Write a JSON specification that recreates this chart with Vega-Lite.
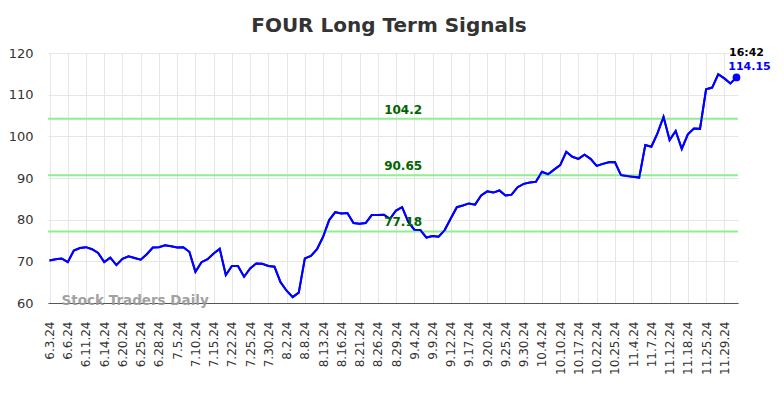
{
  "$schema": "https://vega.github.io/schema/vega-lite/v6.json",
  "width": 690,
  "height": 250,
  "autosize": {"type": "none"},
  "padding": {"left": 48, "top": 53, "right": 46, "bottom": 95},
  "background": "white",
  "title": {"text": "FOUR Long Term Signals", "fontSize": 20, "fontWeight": "bold", "color": "#333333", "font": "DejaVu Sans", "offset": 11, "anchor": "middle", "dx": -4},
  "config": {"view": {"stroke": null}, "font": "DejaVu Sans"},
  "datasets": {
    "prices": [
      {"date": "6.3.24", "close": 70.2}, {"date": "6.4.24", "close": 70.5}, {"date": "6.5.24", "close": 70.7}, {"date": "6.6.24", "close": 69.8},
      {"date": "6.7.24", "close": 72.6}, {"date": "6.10.24", "close": 73.2}, {"date": "6.11.24", "close": 73.4}, {"date": "6.12.24", "close": 72.9},
      {"date": "6.13.24", "close": 72.0}, {"date": "6.14.24", "close": 69.8}, {"date": "6.17.24", "close": 70.9}, {"date": "6.18.24", "close": 69.1},
      {"date": "6.20.24", "close": 70.6}, {"date": "6.21.24", "close": 71.2}, {"date": "6.24.24", "close": 70.8}, {"date": "6.25.24", "close": 70.4},
      {"date": "6.26.24", "close": 71.7}, {"date": "6.27.24", "close": 73.3}, {"date": "6.28.24", "close": 73.4}, {"date": "7.1.24", "close": 73.85},
      {"date": "7.2.24", "close": 73.6}, {"date": "7.5.24", "close": 73.3}, {"date": "7.8.24", "close": 73.4}, {"date": "7.9.24", "close": 72.3},
      {"date": "7.10.24", "close": 67.5}, {"date": "7.11.24", "close": 69.8}, {"date": "7.12.24", "close": 70.5}, {"date": "7.15.24", "close": 71.9},
      {"date": "7.16.24", "close": 73.0}, {"date": "7.18.24", "close": 66.7}, {"date": "7.22.24", "close": 68.9}, {"date": "7.23.24", "close": 68.9},
      {"date": "7.24.24", "close": 66.3}, {"date": "7.25.24", "close": 68.3}, {"date": "7.26.24", "close": 69.5}, {"date": "7.29.24", "close": 69.4},
      {"date": "7.30.24", "close": 68.9}, {"date": "7.31.24", "close": 68.7}, {"date": "8.1.24", "close": 65.0}, {"date": "8.2.24", "close": 62.95},
      {"date": "8.5.24", "close": 61.4}, {"date": "8.6.24", "close": 62.5}, {"date": "8.8.24", "close": 70.7}, {"date": "8.9.24", "close": 71.3},
      {"date": "8.12.24", "close": 72.9}, {"date": "8.13.24", "close": 75.9}, {"date": "8.14.24", "close": 79.9}, {"date": "8.15.24", "close": 81.8},
      {"date": "8.16.24", "close": 81.5}, {"date": "8.19.24", "close": 81.6}, {"date": "8.20.24", "close": 79.2}, {"date": "8.21.24", "close": 79.0},
      {"date": "8.22.24", "close": 79.2}, {"date": "8.23.24", "close": 81.1}, {"date": "8.26.24", "close": 81.1}, {"date": "8.27.24", "close": 81.2},
      {"date": "8.28.24", "close": 80.2}, {"date": "8.29.24", "close": 82.2}, {"date": "8.30.24", "close": 83.0}, {"date": "9.3.24", "close": 79.5},
      {"date": "9.4.24", "close": 77.6}, {"date": "9.5.24", "close": 77.5}, {"date": "9.6.24", "close": 75.7}, {"date": "9.9.24", "close": 76.1},
      {"date": "9.10.24", "close": 75.9}, {"date": "9.11.24", "close": 77.5}, {"date": "9.12.24", "close": 80.3}, {"date": "9.13.24", "close": 83.0},
      {"date": "9.16.24", "close": 83.4}, {"date": "9.17.24", "close": 83.9}, {"date": "9.18.24", "close": 83.6}, {"date": "9.19.24", "close": 85.8},
      {"date": "9.20.24", "close": 86.8}, {"date": "9.23.24", "close": 86.5}, {"date": "9.24.24", "close": 87.0}, {"date": "9.25.24", "close": 85.8},
      {"date": "9.26.24", "close": 86.0}, {"date": "9.27.24", "close": 87.8}, {"date": "9.30.24", "close": 88.6}, {"date": "10.1.24", "close": 88.9},
      {"date": "10.2.24", "close": 89.1}, {"date": "10.4.24", "close": 91.5}, {"date": "10.7.24", "close": 90.9}, {"date": "10.8.24", "close": 92.0},
      {"date": "10.10.24", "close": 93.1}, {"date": "10.11.24", "close": 96.3}, {"date": "10.15.24", "close": 95.1}, {"date": "10.17.24", "close": 94.6},
      {"date": "10.18.24", "close": 95.6}, {"date": "10.21.24", "close": 94.6}, {"date": "10.22.24", "close": 92.9}, {"date": "10.23.24", "close": 93.4},
      {"date": "10.24.24", "close": 93.8}, {"date": "10.25.24", "close": 93.85}, {"date": "10.28.24", "close": 90.7}, {"date": "10.31.24", "close": 90.5},
      {"date": "11.4.24", "close": 90.3}, {"date": "11.5.24", "close": 90.1}, {"date": "11.6.24", "close": 97.9}, {"date": "11.7.24", "close": 97.5},
      {"date": "11.8.24", "close": 100.7}, {"date": "11.11.24", "close": 104.7}, {"date": "11.12.24", "close": 99.1}, {"date": "11.13.24", "close": 101.3},
      {"date": "11.15.24", "close": 97.0}, {"date": "11.18.24", "close": 100.5}, {"date": "11.20.24", "close": 101.9}, {"date": "11.22.24", "close": 101.8},
      {"date": "11.25.24", "close": 111.3}, {"date": "11.26.24", "close": 111.7}, {"date": "11.27.24", "close": 114.9}, {"date": "11.29.24", "close": 113.9},
      {"date": "12.2.24", "close": 112.7}, {"date": "12.3.24", "close": 114.15}
    ],
    "levels": [
      {"level": 104.2, "label": "104.2"},
      {"level": 90.65, "label": "90.65"},
      {"level": 77.18, "label": "77.18"}
    ],
    "last": [
      {"date": "12.3.24", "close": 114.15, "time": "16:42", "label": "114.15"}
    ],
    "mark": [
      {"text": "Stock Traders Daily"}
    ]
  },
  "layer": [
    {
      "data": {"name": "prices"},
      "mark": {"type": "line", "color": "#0000ff", "strokeWidth": 2},
      "encoding": {
        "x": {
          "field": "date", "type": "nominal", "title": null,
          "scale": {"type": "point", "padding": 0.25, "domain": ["6.3.24","6.4.24","6.5.24","6.6.24","6.7.24","6.10.24","6.11.24","6.12.24","6.13.24","6.14.24","6.17.24","6.18.24","6.20.24","6.21.24","6.24.24","6.25.24","6.26.24","6.27.24","6.28.24","7.1.24","7.2.24","7.5.24","7.8.24","7.9.24","7.10.24","7.11.24","7.12.24","7.15.24","7.16.24","7.18.24","7.22.24","7.23.24","7.24.24","7.25.24","7.26.24","7.29.24","7.30.24","7.31.24","8.1.24","8.2.24","8.5.24","8.6.24","8.8.24","8.9.24","8.12.24","8.13.24","8.14.24","8.15.24","8.16.24","8.19.24","8.20.24","8.21.24","8.22.24","8.23.24","8.26.24","8.27.24","8.28.24","8.29.24","8.30.24","9.3.24","9.4.24","9.5.24","9.6.24","9.9.24","9.10.24","9.11.24","9.12.24","9.13.24","9.16.24","9.17.24","9.18.24","9.19.24","9.20.24","9.23.24","9.24.24","9.25.24","9.26.24","9.27.24","9.30.24","10.1.24","10.2.24","10.4.24","10.7.24","10.8.24","10.10.24","10.11.24","10.15.24","10.17.24","10.18.24","10.21.24","10.22.24","10.23.24","10.24.24","10.25.24","10.28.24","10.31.24","11.4.24","11.5.24","11.6.24","11.7.24","11.8.24","11.11.24","11.12.24","11.13.24","11.15.24","11.18.24","11.20.24","11.22.24","11.25.24","11.26.24","11.27.24","11.29.24","12.2.24","12.3.24"]},
          "axis": {
            "values": ["6.3.24","6.6.24","6.11.24","6.14.24","6.20.24","6.25.24","6.28.24","7.5.24","7.10.24","7.15.24","7.22.24","7.25.24","7.30.24","8.2.24","8.8.24","8.13.24","8.16.24","8.21.24","8.26.24","8.29.24","9.4.24","9.9.24","9.12.24","9.17.24","9.20.24","9.25.24","9.30.24","10.4.24","10.10.24","10.17.24","10.22.24","10.25.24","11.4.24","11.7.24","11.12.24","11.18.24","11.25.24","11.29.24"],
            "labelAngle": -90, "labelFontSize": 12, "labelColor": "#333333", "labelPadding": 18,
            "ticks": false, "domain": true, "domainColor": "#555555", "domainWidth": 1.2,
            "grid": true, "gridColor": "#e6e6e6", "labelOverlap": false
          }
        },
        "y": {
          "field": "close", "type": "quantitative", "title": null,
          "scale": {"domain": [60, 120], "nice": false, "zero": false},
          "axis": {
            "values": [60, 70, 80, 90, 100, 110, 120],
            "labelFontSize": 13, "labelColor": "#333333", "labelPadding": 15,
            "ticks": false, "domain": false, "grid": true, "gridColor": "#e6e6e6"
          }
        }
      }
    },
    {
      "data": {"name": "levels"},
      "mark": {"type": "rule", "color": "#90ee90", "strokeWidth": 2},
      "encoding": {"y": {"field": "level", "type": "quantitative"}}
    },
    {
      "data": {"name": "prices"},
      "mark": {"type": "line", "color": "#0000ff", "strokeWidth": 2},
      "encoding": {
        "x": {"field": "date", "type": "nominal"},
        "y": {"field": "close", "type": "quantitative"}
      }
    },
    {
      "data": {"name": "levels"},
      "mark": {"type": "text", "color": "#006400", "fontWeight": "bold", "fontSize": 12, "baseline": "bottom", "dy": -2, "dx": 1},
      "encoding": {
        "x": {"datum": "8.30.24", "type": "nominal"},
        "y": {"field": "level", "type": "quantitative"},
        "text": {"field": "label"}
      }
    },
    {
      "data": {"name": "last"},
      "mark": {"type": "circle", "color": "#0000ff", "size": 60, "opacity": 1},
      "encoding": {
        "x": {"field": "date", "type": "nominal"},
        "y": {"field": "close", "type": "quantitative"}
      }
    },
    {
      "data": {"name": "last"},
      "mark": {"type": "text", "color": "#000000", "fontWeight": "bold", "fontSize": 11, "baseline": "middle", "dx": 10, "dy": -24},
      "encoding": {
        "x": {"field": "date", "type": "nominal"},
        "y": {"field": "close", "type": "quantitative"},
        "text": {"field": "time"}
      }
    },
    {
      "data": {"name": "last"},
      "mark": {"type": "text", "color": "#0000ff", "fontWeight": "bold", "fontSize": 11, "baseline": "middle", "dx": 13, "dy": -10},
      "encoding": {
        "x": {"field": "date", "type": "nominal"},
        "y": {"field": "close", "type": "quantitative"},
        "text": {"field": "label"}
      }
    },
    {
      "data": {"name": "mark"},
      "mark": {"type": "text", "color": "#999999", "fontWeight": "bold", "fontSize": 13.5, "align": "left", "baseline": "middle", "dx": 12, "dy": -2, "opacity": 0.9},
      "encoding": {
        "x": {"datum": "6.3.24", "type": "nominal"},
        "y": {"datum": 60, "type": "quantitative"},
        "text": {"field": "text"}
      }
    }
  ]
}
